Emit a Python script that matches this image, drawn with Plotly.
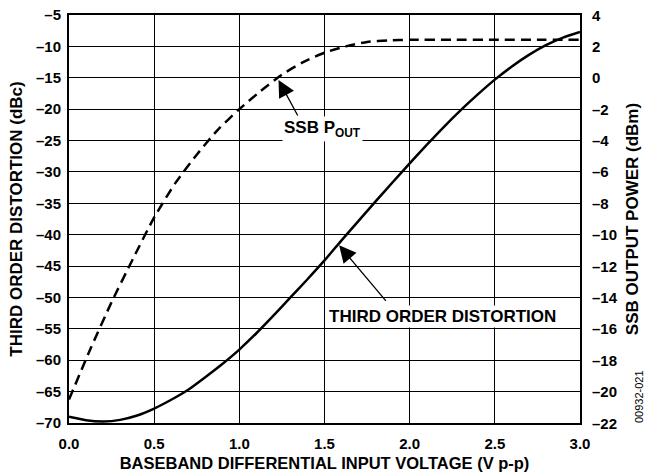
import plotly.graph_objects as go

# baseband differential input voltage (V p-p)
tod_v = [0.0, 0.1, 0.2, 0.3, 0.4, 0.5, 0.6, 0.7, 0.8, 0.9, 1.0, 1.1, 1.2, 1.3, 1.4, 1.5,
         1.6, 1.7, 1.8, 1.9, 2.0, 2.1, 2.2, 2.3, 2.4, 2.5, 2.6, 2.7, 2.8, 2.9, 3.0]
# third order distortion (dBc), left axis
tod_dbc = [-69.0, -69.55, -69.75, -69.5, -68.8, -67.7, -66.3, -64.7, -62.7, -60.6, -58.3,
           -55.7, -52.9, -50.0, -47.1, -44.1, -40.9, -37.8, -34.7, -31.65, -28.65, -25.7,
           -22.85, -20.15, -17.65, -15.3, -13.2, -11.35, -9.8, -8.6, -7.7]

ssb_v = [0.0, 0.125, 0.25, 0.375, 0.5, 0.625, 0.75, 0.875, 1.0, 1.125, 1.25, 1.375,
         1.5, 1.625, 1.75, 1.875, 2.0, 2.25, 2.5, 2.75, 3.0]
# SSB output power (dBm), right axis
ssb_dbm = [-20.5, -17.3, -14.3, -11.55, -8.9, -6.7, -4.9, -3.3, -2.0, -0.85, 0.2, 1.0,
           1.6, 2.0, 2.28, 2.38, 2.42, 2.42, 2.42, 2.42, 2.42]

x_ticks = [0.0, 0.5, 1.0, 1.5, 2.0, 2.5, 3.0]
y_ticks = [-5, -10, -15, -20, -25, -30, -35, -40, -45, -50, -55, -60, -65, -70]
y2_ticks = [4, 2, 0, -2, -4, -6, -8, -10, -12, -14, -16, -18, -20, -22]

FONT = "Arial, Liberation Sans, sans-serif"

W, H = 647, 475
L, R, T, B = 69, 67, 15, 52


def fmt(v, digits=0):
    s = f"{abs(v):.{digits}f}"
    return f"<b>{'–' if v < 0 else ''}{s}</b>"


fig = go.Figure()
fig.add_trace(go.Scatter(
    x=tod_v, y=tod_dbc, mode="lines",
    line=dict(color="black", width=2.5, shape="spline", smoothing=0.6),
    showlegend=False,
))
fig.add_trace(go.Scatter(
    x=ssb_v, y=ssb_dbm, mode="lines", yaxis="y2",
    line=dict(color="black", width=2.5, dash="10px,6px", shape="spline", smoothing=0.6),
    showlegend=False,
))

tick_font = dict(family=FONT, size=15, color="black")
title_font = dict(family=FONT, size=17, color="black")

fig.update_layout(
    width=W, height=H,
    margin=dict(l=L, r=R, t=T, b=B),
    paper_bgcolor="white", plot_bgcolor="white",
    xaxis=dict(
        range=[0, 3], tickvals=x_ticks, ticktext=[fmt(v, 1) for v in x_ticks],
        showgrid=True, gridcolor="black", gridwidth=1, automargin=False,
        showline=True, linecolor="black", linewidth=2, mirror=True, zeroline=False, ticks="",
        tickfont=tick_font, ticklabelstandoff=6, ticklabeloverflow="allow",
        title=dict(text="<b>BASEBAND DIFFERENTIAL INPUT VOLTAGE (V p-p)</b>",
                   font=dict(family=FONT, size=16.5, color="black"), standoff=6),
    ),
    yaxis=dict(
        range=[-70, -5], tickvals=y_ticks, ticktext=[fmt(v) for v in y_ticks],
        showgrid=True, gridcolor="black", gridwidth=1, automargin=False,
        showline=True, linecolor="black", linewidth=2, mirror=True, zeroline=False, ticks="",
        tickfont=tick_font, ticklabelstandoff=3, ticklabeloverflow="allow",
        title=dict(text="<b>THIRD ORDER DISTORTION (dBc)</b>", font=title_font, standoff=9),
    ),
    yaxis2=dict(
        range=[-22, 4], tickvals=y2_ticks, showticklabels=False,
        overlaying="y", side="right", showgrid=False, zeroline=False, automargin=False,
        showline=False, ticks="",
        title=dict(text="<b>SSB OUTPUT POWER (dBm)</b>", font=title_font, standoff=46),
    ),
)

# right-hand tick labels
for v in y2_ticks:
    fig.add_annotation(x=1, y=v, xref="paper", yref="y2", xanchor="left", yanchor="middle",
                       xshift=10, showarrow=False, text=fmt(v), font=tick_font)

# arrows
arrow = dict(xref="x", yref="y", text="", showarrow=True, arrowhead=2,
             arrowsize=2.6, arrowwidth=1.3, arrowcolor="black")
fig.add_annotation(x=1.23, y=-15.35, ax=20, ay=37, **arrow)
fig.add_annotation(x=1.586, y=-41.7, ax=48, ay=57, **arrow)
# labels
fig.add_annotation(x=1.486, y=-23.2, xref="x", yref="y", showarrow=False,
                   text="<b>SSB P<sub>OUT</sub></b>", bgcolor="white",
                   font=dict(family=FONT, size=17, color="black"))
fig.add_annotation(x=2.195, y=-53.1, xref="x", yref="y", showarrow=False,
                   text="<b>THIRD ORDER DISTORTION</b>", bgcolor="white",
                   font=dict(family=FONT, size=17, color="black"))
fig.add_annotation(x=(639 - L) / (W - L - R), y=(H - B - 397) / (H - T - B),
                   xref="paper", yref="paper", xanchor="center", yanchor="middle",
                   showarrow=False, text="00932-021", textangle=-90,
                   font=dict(family=FONT, size=11, color="black"))

# drop the default 8px page margin so the chart sits at the window's corner
fig.write_html("out.html", config={"displayModeBar": False},
               post_script="document.body.style.margin = '0';")
